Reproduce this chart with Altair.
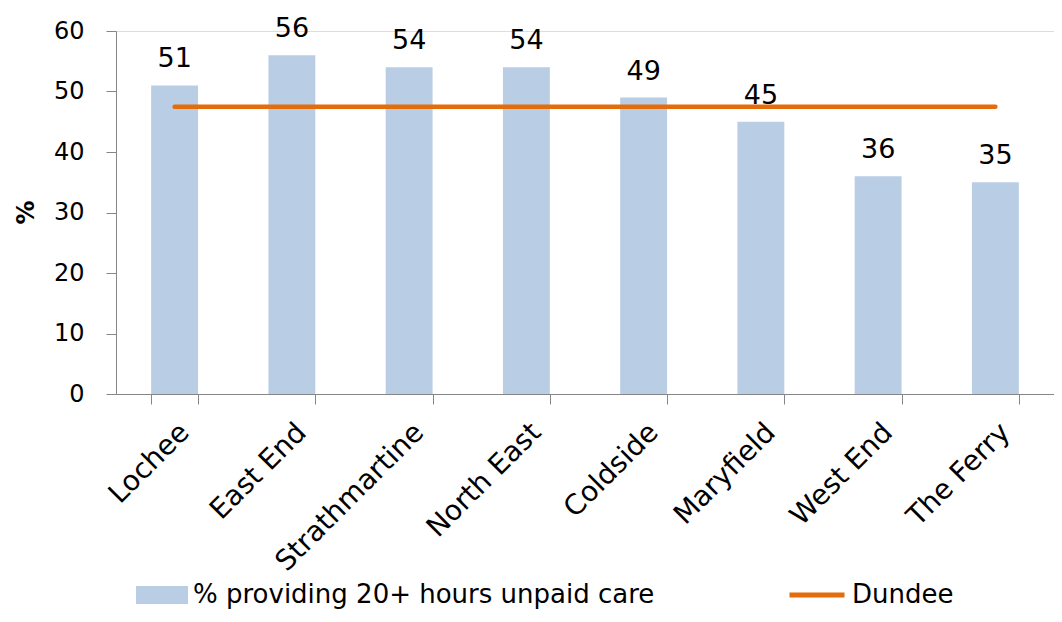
import altair as alt
import pandas as pd

categories = ["Lochee", "East End", "Strathmartine", "North East", "Coldside", "Maryfield", "West End", "The Ferry"]
values = [51, 56, 54, 54, 49, 45, 36, 35]
dundee = [47.5, 47.5, 47.5, 47.5, 47.5, 47.5, 47.5, 47.5]
bar_series = "% providing 20+ hours unpaid care"
line_series = "Dundee"
y_ticks = [0, 10, 20, 30, 40, 50, 60]

df = pd.DataFrame({"area": categories, "pct": values, "dundee": dundee,
                   "s1": bar_series, "s2": line_series})

FONT = "DejaVu Sans"
GREY = "#868686"
BLUE = "#B9CDE5"
ORANGE = "#E46C0A"

x = alt.X("area:N", sort=categories, title=None,
          scale=alt.Scale(paddingInner=0.6, paddingOuter=0.3),
          axis=alt.Axis(labelAngle=-45, labelFontSize=28, labelColor="black", labelFont=FONT,
                        tickBand="extent", tickSize=10, tickColor=GREY, domainColor=GREY,
                        labelPadding=14, labelLimit=0))

y_axis = alt.Axis(values=y_ticks, grid=False, tickSize=10, tickColor=GREY, domainColor=GREY,
                  labelFontSize=24, labelFont=FONT, labelColor="black", labelPadding=22,
                  title="%", titleFontSize=24, titleFont=FONT, titleFontWeight="bold",
                  titleColor="black", titleAngle=270, titleX=-90, titleY=181,
                  titleAlign="center", titleBaseline="middle")

base = alt.Chart(df)

bars = base.mark_bar().encode(
    x=x,
    y=alt.Y("pct:Q", scale=alt.Scale(domain=[0, 60]), axis=y_axis),
    color=alt.Color("s1:N", scale=alt.Scale(domain=[bar_series], range=[BLUE]),
                    legend=alt.Legend(title=None, orient="none", legendX=20, legendY=538,
                                      symbolType="M-1,-0.35L1,-0.35L1,0.35L-1,0.35Z",
                                      symbolSize=2704, symbolStrokeWidth=0, symbolOpacity=1,
                                      labelFontSize=26, labelFont=FONT, labelColor="black",
                                      labelOffset=5, labelLimit=0)),
)

labels = base.mark_text(baseline="alphabetic", dy=-18, fontSize=27, font=FONT, color="black").encode(
    x=x,
    y=alt.Y("pct:Q"),
    text=alt.Text("pct:Q"),
)

line = base.mark_line(strokeWidth=4.5, strokeCap="round").encode(
    x=x,
    y=alt.Y("dundee:Q"),
    stroke=alt.Stroke("s2:N", scale=alt.Scale(domain=[line_series], range=[ORANGE]),
                      legend=alt.Legend(title=None, orient="none", legendX=671, legendY=534,
                                        symbolType="stroke", symbolSize=3025,
                                        symbolStrokeWidth=5,
                                        labelFontSize=26, labelFont=FONT, labelColor="black",
                                        labelOffset=5, labelLimit=0)),
)

chart = alt.layer(bars, line, labels).resolve_scale(color="independent").properties(
    width=938, height=363,
    autosize=alt.AutoSizeParams(type="none"),
    padding={"left": 108, "top": 23, "right": 0, "bottom": 220},
).configure_view(stroke=None).configure(background="white")

chart.save("out.html", embed_options={"renderer": "svg", "actions": False})
